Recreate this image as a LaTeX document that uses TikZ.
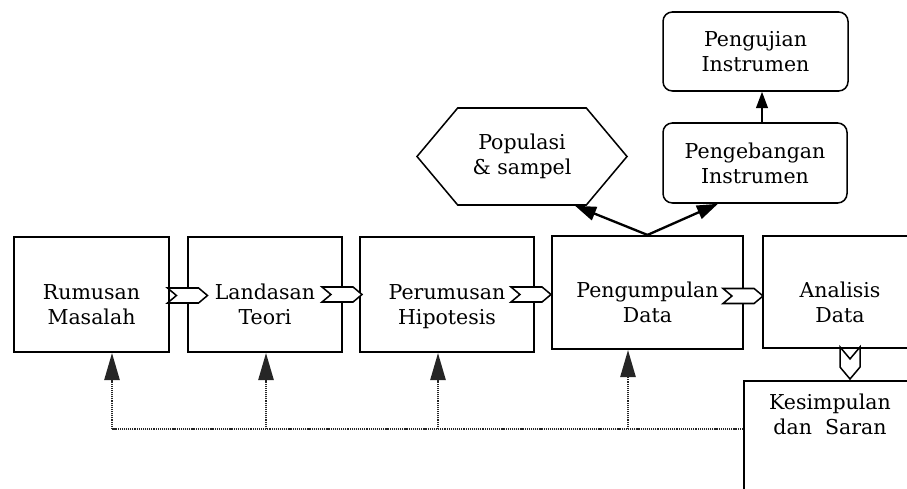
\documentclass[tikz,border=0pt]{standalone}
\usepackage{fontspec}
\setmainfont{DejaVu Serif}
\usepackage{tikz}
\usetikzlibrary{shapes.symbols,arrows.meta,calc}
\newcommand\Px{0.03cm}
\tikzset{
    txt/.style={align=center, font=\fontsize{17.5}{21.3}\selectfont},
    box/.style={txt, draw, line width=1.8pt, inner sep=0pt,
        text height=1.89cm, text depth=0.09cm},
    rbox/.style={txt, draw, line width=1.3pt, inner sep=0pt, rounded corners=8pt},
    hexa/.style={txt, draw, line width=1.3pt, inner sep=0pt, signal,
        signal to=west and east, signal pointer angle=100,
        minimum width=210*\Px, minimum height=97*\Px},
    chev/.style={draw, fill=white, line width=1.3pt, inner sep=0pt, signal,
        signal from=west, signal to=east, signal pointer angle=80,
        minimum width=40*\Px, minimum height=15*\Px},
    bigarrow/.style={line width=2pt, -{Triangle[length=18pt,width=12pt]}},
    uparrow/.style={line width=1.7pt, -{Triangle[length=14pt,width=10pt]}},
    fbline/.style={line width=1.5pt, color=black!85, dash pattern=on 1pt off 0.8pt},
    fbarrow/.style={fbline, -{Triangle[length=23pt,width=13pt]}}
}

\begin{document}
\begin{tikzpicture}[x=\Px, y=-\Px]
    \clip (0,0) rectangle (907,489);
    % main row
    \node[box, minimum width=155*\Px, minimum height=115*\Px] (rum) at (91.5,294.5) {Rumusan\\Masalah};
    \node[box, minimum width=154*\Px, minimum height=115*\Px] (lan) at (265,294.5) {Landasan\\Teori};
    \node[box, minimum width=174*\Px, minimum height=115*\Px] (per) at (447,294.5) {Perumusan\\Hipotesis};
    \node[box, minimum width=191*\Px, minimum height=113*\Px] (pgm) at (647.5,292.5) {Pengumpulan\\Data};
    \node[box, minimum width=154*\Px, minimum height=112*\Px] (ana) at (840,292) {Analisis\\Data};
    \node[box, minimum width=172*\Px, minimum height=200*\Px, anchor=north] (kes) at (830,380) {};
    \node[txt] (kestxt) at ($(kes.north)+(0,34)$) {Kesimpulan\\dan\ \ Saran};
    % upper branch
    \node[hexa] (pop) at (522,156.5) {Populasi\\\& sampel};
    \node[rbox, minimum width=184*\Px, minimum height=80*\Px] (peb) at (755,163) {Pengebangan\\Instrumen};
    \node[rbox, minimum width=185*\Px, minimum height=79*\Px] (puj) at (755.5,51.5) {Pengujian\\Instrumen};
    % chevrons
    \node[chev] (c1) at (187.5,295.5) {};
    \node[chev] (c2) at (342,294.5) {};
    \node[chev] (c3) at (531,294.5) {};
    \node[chev] (c4) at (743,296) {};
    \node[chev, rotate=-90, minimum width=32*\Px, minimum height=20*\Px] (c5) at (850,363) {};
    % arrows
    \draw[bigarrow] (pgm.north) -- ($(pop.south)+(53,0)$);
    \draw[bigarrow] (pgm.north) -- ($(peb.south)+(-37,0)$);
    \draw[uparrow] ($(peb.north)+(7,0)$) -- ($(puj.south)+(6.5,0)$);
    % feedback
    \coordinate (fb) at (112,429);
    \draw[fbline] (kes.west |- fb) -- (fb);
    \foreach \n/\dx in {rum/20.5, lan/1, per/-9, pgm/-19.5} {
        \path ($(\n.south)+(\dx,0)$) coordinate (tip);
        \draw[fbarrow] (tip |- fb) -- (tip);
    }
\end{tikzpicture}
\end{document}
